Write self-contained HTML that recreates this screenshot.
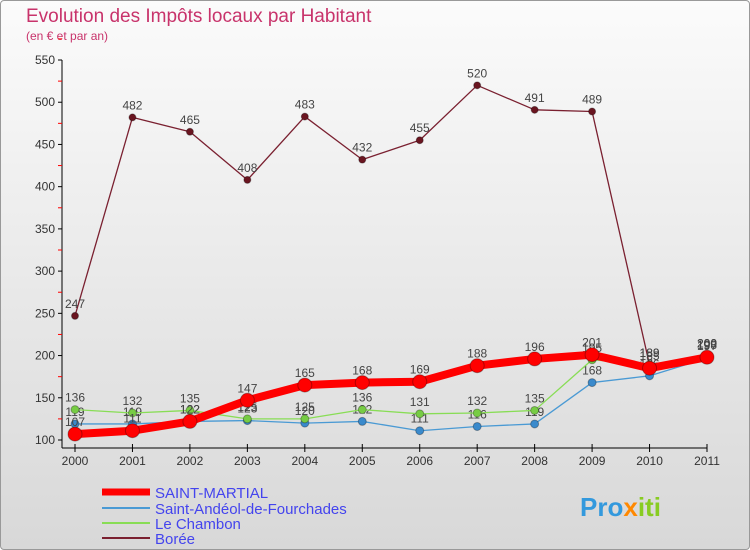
<!DOCTYPE html>
<html><head><meta charset="utf-8"><style>
body{margin:0;width:750px;height:550px;overflow:hidden;font-family:"Liberation Sans",sans-serif}
#wrap{position:absolute;left:0;top:0;width:748px;height:548px;border:1px solid #999;border-radius:4px;background:linear-gradient(#fbfbfb,#d8d8d8)}
</style></head><body>
<div id="wrap"></div>
<svg id="c" width="750" height="550" style="position:absolute;left:0;top:0">
<text x="26" y="22" font-size="19" fill="#c8336b">Evolution des Impôts locaux par Habitant</text>
<text x="26" y="40" font-size="12" fill="#c8336b">(en € et par an)</text>
<g id="axes"></g><g id="series"></g>
<g font-size="15">
<line x1="102" y1="492" x2="150" y2="492" stroke="#ff0000" stroke-width="7"/><text x="155" y="498" fill="#4444ee">SAINT-MARTIAL</text>
<line x1="102" y1="508" x2="150" y2="508" stroke="#4a9ad4" stroke-width="2"/><text x="155" y="514" fill="#4444ee">Saint-Andéol-de-Fourchades</text>
<line x1="102" y1="523" x2="150" y2="523" stroke="#88dd55" stroke-width="2"/><text x="155" y="529" fill="#4444ee">Le Chambon</text>
<line x1="102" y1="538" x2="150" y2="538" stroke="#7a2030" stroke-width="2"/><text x="155" y="544" fill="#4444ee">Borée</text>
</g>
<text x="580" y="516" font-size="26" font-weight="bold" fill="#3399dd">Pro<tspan fill="#ff8800">x</tspan><tspan fill="#88cc22">iti</tspan></text>
</svg>
<script>
const years=[2000,2001,2002,2003,2004,2005,2006,2007,2008,2009,2010,2011];
const yTicks=[100,150,200,250,300,350,400,450,500,550];
const saintMartial=[107,111,122,147,165,168,169,188,196,201,185,198];
const saintAndeol=[119,119,122,123,120,122,111,116,119,168,176,197];
const leChambon=[136,132,135,125,125,136,131,132,135,195,189,200];
const boree=[247,482,465,408,483,432,455,520,491,489,189,200];
const NS='http://www.w3.org/2000/svg';
const X=i=>75+i*(707-75)/11, Y=v=>440-(v-100)*(380/450);
function mk(t,a,p){const e=document.createElementNS(NS,t);for(const k in a)e.setAttribute(k,a[k]);p.appendChild(e);return e;}
const ax=document.getElementById('axes');
let l=mk('line',{x1:62,y1:60,x2:62,y2:448,stroke:'#000'},ax);

l=mk('line',{x1:62,y1:448,x2:707,y2:448,stroke:'#000'},ax);

yTicks.forEach(v=>{mk('line',{x1:58,y1:Y(v),x2:62,y2:Y(v),stroke:'#000'},ax);
mk('line',{x1:58,y1:Y(v+25),x2:62,y2:Y(v+25),stroke:'#f00'},ax);
const t=mk('text',{x:55,y:Y(v)+4,'text-anchor':'end','font-size':12,fill:'#333'},ax);t.textContent=v;
});
years.forEach((y,i)=>{mk('line',{x1:X(i),y1:444,x2:X(i),y2:452,stroke:'#000'},ax);
const t=mk('text',{x:X(i),y:465,'text-anchor':'middle','font-size':12,fill:'#333'},ax);t.textContent=y;
});
const sg=document.getElementById('series');
function series(d,col,w,r,name,dot){const g=mk('g',{},sg);

mk('polyline',{points:d.map((v,i)=>X(i)+','+Y(v)).join(' '),fill:'none',stroke:col,'stroke-width':w,'stroke-linejoin':'round'},g);
d.forEach((v,i)=>{const c=mk('circle',{cx:X(i),cy:Y(v),r:r,fill:dot,stroke:'rgba(0,0,0,0.3)'},g);

const t=mk('text',{x:X(i),y:Y(v)-8,'text-anchor':'middle','font-size':12,fill:'#444'},g);t.textContent=v;
});}
series(boree,'#7a2030',1.3,3.5,'boree-series','#6a1520');
series(saintAndeol,'#4a9ad4',1.3,4,'saint-andeol-series','#3a8acc');
series(leChambon,'#88dd55',1.3,4,'le-chambon-series','#77cc44');
series(saintMartial,'#ff0000',8,7,'saint-martial-series','#ff0000');
</script>
</body></html>
